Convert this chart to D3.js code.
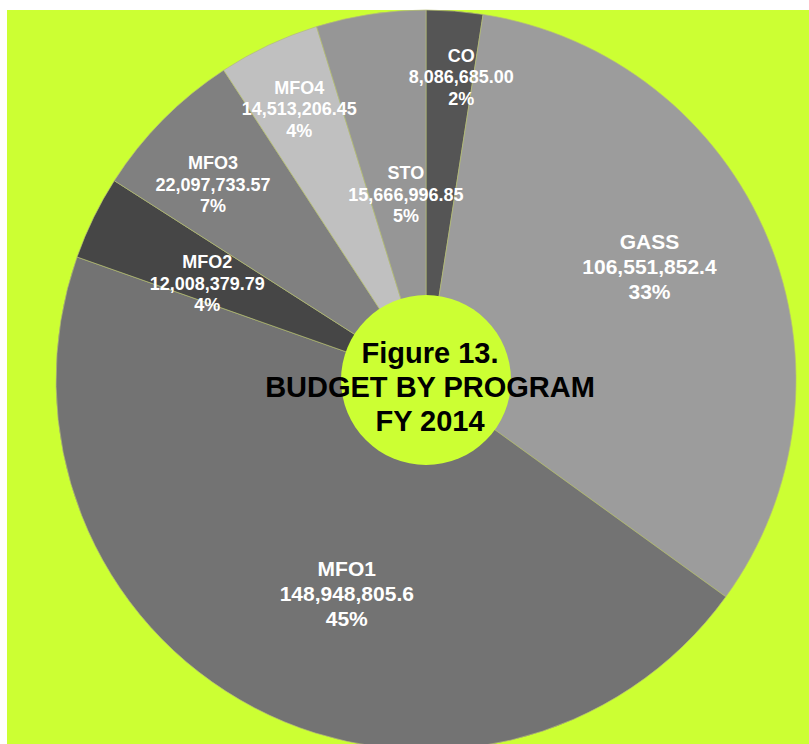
<!DOCTYPE html>
<html>
<head>
<meta charset="utf-8">
<script src="https://cdn.jsdelivr.net/npm/d3@7"></script>
<style>
  body { margin: 0; background: #ffffff; }
  svg { display: block; }
  text { font-family: "Liberation Sans", Arial, sans-serif; font-weight: bold; }
</style>
</head>
<body>
<svg id="chart" width="809" height="744"></svg>
<script>
// budget by program, FY 2014
const programs = ['CO', 'GASS', 'MFO1', 'MFO2', 'MFO3', 'MFO4', 'STO'];
const amounts = [8086685.00, 106551852.4, 148948805.6, 12008379.79, 22097733.57, 14513206.45, 15666996.85];
const amountLabels = ['8,086,685.00', '106,551,852.4', '148,948,805.6', '12,008,379.79', '22,097,733.57', '14,513,206.45', '15,666,996.85'];
const percentLabels = ['2%', '33%', '45%', '4%', '7%', '4%', '5%'];
const titleLines = ['Figure 13.', 'BUDGET BY PROGRAM', 'FY 2014'];

const colours = {
  CO: '#555555', GASS: '#9c9c9c', MFO1: '#737373', MFO2: '#464646',
  MFO3: '#808080', MFO4: '#c0c0c0', STO: '#969696'
};

// where excel put each label: [angle nudge in degrees, radius as share of pie radius]
const labelPlace = {
  CO: [2.2, 0.824], GASS: [-4.4, 0.678], MFO1: [-7.3, 0.616], MFO2: [-2.2, 0.646],
  MFO3: [-2.2, 0.781], MFO4: [0.1, 0.808], STO: [2.4, 0.503]
};
const bigLabels = ['GASS', 'MFO1'];

const BG = '#ccff33';
const CX = 426, CY = 380, RADIUS = 370, HOLE = 85;

const svg = d3.select('#chart');

svg.append('rect')
  .attr('x', 7).attr('y', 10)
  .attr('width', 809 - 7).attr('height', 744 - 10)
  .attr('fill', BG);

const data = programs.map((p, i) => ({
  name: p, value: amounts[i], text: amountLabels[i], pct: percentLabels[i]
}));

const pie = d3.pie().value(d => d.value).sort(null);
const arc = d3.arc().innerRadius(0).outerRadius(RADIUS);
const arcs = pie(data);

const g = svg.append('g').attr('transform', `translate(${CX},${CY})`);

g.selectAll('path.slice')
  .data(arcs)
  .join('path')
  .attr('class', 'slice')
  .attr('d', arc)
  .attr('fill', d => colours[d.data.name])
  .attr('stroke', '#b4bc78')
  .attr('stroke-width', 0.7);

// labels: name, amount, percent
const labels = g.selectAll('g.label')
  .data(arcs)
  .join('g')
  .attr('class', 'label')
  .attr('transform', d => {
    const [nudge, frac] = labelPlace[d.data.name];
    const a = (d.startAngle + d.endAngle) / 2 + nudge * Math.PI / 180;
    const r = frac * RADIUS;
    return `translate(${r * Math.sin(a)},${-r * Math.cos(a)})`;
  });

labels.each(function(d) {
  const big = bigLabels.includes(d.data.name);
  const size = big ? 21 : 18;
  const step = big ? 25 : 21.5;
  const lines = [d.data.name, d.data.text, d.data.pct];
  d3.select(this).selectAll('text')
    .data(lines)
    .join('text')
    .attr('text-anchor', 'middle')
    .attr('dominant-baseline', 'central')
    .attr('y', (t, i) => (i - 1) * step)
    .attr('fill', '#ffffff')
    .attr('font-size', size)
    .text(t => t);
});

// hole with the title
g.append('circle')
  .attr('r', HOLE)
  .attr('fill', BG);

g.selectAll('text.title')
  .data(titleLines)
  .join('text')
  .attr('class', 'title')
  .attr('text-anchor', 'middle')
  .attr('dominant-baseline', 'central')
  .attr('x', 4)
  .attr('y', (t, i) => (i - 1) * 34 + 7)
  .attr('fill', '#000000')
  .attr('font-size', 29)
  .text(t => t);
</script>
</body>
</html>
